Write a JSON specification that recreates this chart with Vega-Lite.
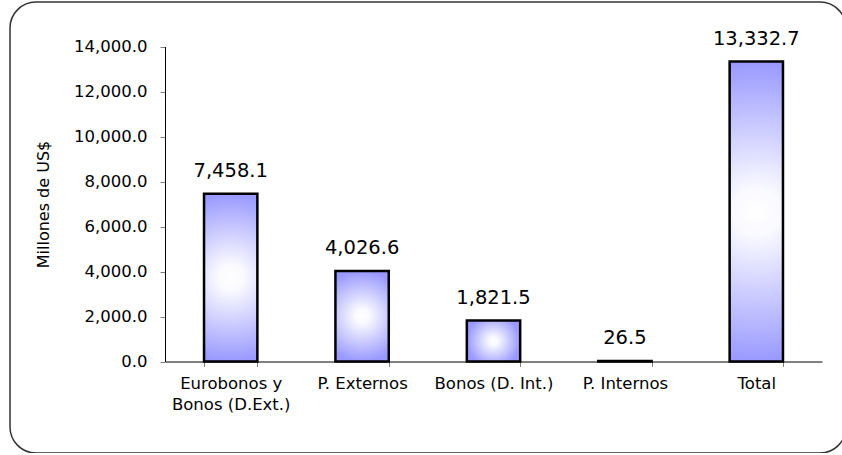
{
  "$schema": "https://vega.github.io/schema/vega-lite/v6.json",
  "description": "Millones de US$ por tipo de deuda",
  "autosize": "none",
  "padding": {"left": 10, "top": 2, "right": 0, "bottom": 0},
  "width": 836,
  "height": 451,
  "background": "white",
  "data": {
    "values": [
      {"tipo": "Eurobonos y Bonos (D.Ext.)", "monto": 7458.1},
      {"tipo": "P. Externos", "monto": 4026.6},
      {"tipo": "Bonos (D. Int.)", "monto": 1821.5},
      {"tipo": "P. Internos", "monto": 26.5},
      {"tipo": "Total", "monto": 13332.7}
    ]
  },
  "encoding": {
    "x": {
      "field": "tipo",
      "type": "nominal",
      "sort": null,
      "title": null,
      "scale": {"range": [155, 812], "paddingInner": 0.594, "paddingOuter": 0.297},
      "axis": {
        "orient": "bottom",
        "offset": -91.5,
        "labelAngle": 0,
        "tickBand": "extent",
        "tickSize": 5,
        "tickColor": "#808080",
        "domainColor": "#000000",
        "labelPadding": 9,
        "labelFontSize": 16.5,
        "labelLineHeight": 21,
        "labelColor": "#000000",
        "labelExpr": "datum.value == 'Eurobonos y Bonos (D.Ext.)' ? ['Eurobonos y', 'Bonos (D.Ext.)'] : datum.value"
      }
    },
    "y": {
      "field": "monto",
      "type": "quantitative",
      "title": "Millones de US$",
      "scale": {"domain": [0, 14000], "range": [359.5, 44.5], "nice": false},
      "axis": {
        "offset": -155,
        "values": [0, 2000, 4000, 6000, 8000, 10000, 12000, 14000],
        "format": ",.1f",
        "grid": false,
        "tickSize": 5,
        "tickColor": "#808080",
        "domainColor": "#000000",
        "labelPadding": 13,
        "labelFontSize": 16.5,
        "labelColor": "#000000",
        "titleFontSize": 16,
        "titleFontWeight": "normal",
        "titleColor": "#000000",
        "titleX": -122,
        "titleBaseline": "middle"
      }
    }
  },
  "layer": [
    {
      "mark": {
        "type": "bar",
        "stroke": "#000000",
        "strokeWidth": 2.5,
        "color": {
          "gradient": "radial",
          "x1": 0.5, "y1": 0.5, "r1": 0,
          "x2": 0.5, "y2": 0.5, "r2": 0.5,
          "stops": [
            {"offset": 0, "color": "#ffffff"},
            {"offset": 0.15, "color": "#fafaff"},
            {"offset": 1, "color": "#9999ff"}
          ]
        }
      }
    },
    {
      "mark": {"type": "text", "baseline": "alphabetic", "dy": -17, "fontSize": 19.5, "color": "#000000"},
      "encoding": {
        "text": {"field": "monto", "type": "quantitative", "format": ",.1f"}
      }
    }
  ],
  "config": {
    "font": "DejaVu Sans",
    "view": {"stroke": "#333333", "strokeWidth": 1.5, "cornerRadius": 26}
  }
}
